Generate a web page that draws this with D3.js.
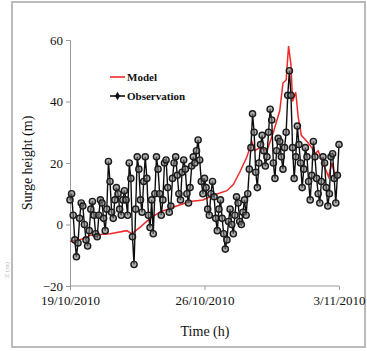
<!DOCTYPE html>
<html>
<head>
<meta charset="utf-8">
<script src="https://cdn.jsdelivr.net/npm/d3@7"></script>
<style>
  body { margin: 0; background: #fff; }
  svg text { font-family: "Liberation Serif", "DejaVu Serif", serif; }
</style>
</head>
<body>
<div id="chart"></div>
<script>
// observations every 2 hours from 19/10/2010 00:00
const obsStep = 2;
const obsValues = [
  8, 10, 3, -5, -10.5, -6, 2, 7, 6, 0, -5, -7,
  -2, 5, 7.5, 3, -3, -4, 3, 8, 7, 2, -2, 5,
  20.5, 14, 4, 2, 8, 12, 10, 5, 3, 8, 11, 8,
  3, 20, 15, -4, -13, 5, 22, 18, 8, 4, 14, 22,
  15, 3, -1, 8, -3, 10, 22, 18, 10, 3, 8, 20,
  21, 12, 4, 6, 15, 20, 22, 16, 10, 8, 17, 21,
  18, 10, 7, 12, 19, 22, 20, 24, 27.5, 21, 14, 10,
  15, 12, 5, 3, 10, 14, 9, 2, -2, 5, 8, 2,
  -3, -8, -5, 1, 5, 0, -3, 3, 9, 7, 1, 0,
  4, 8, 3, 10, 18, 25, 36, 30, 17, 12, 20, 26,
  29, 24, 19, 22, 30, 37.5, 34, 20, 15, 24, 28, 27,
  22, 18, 25, 30, 42, 50, 42, 25, 15, 22, 32, 26,
  20, 12, 18, 25, 22, 14, 8, 16, 27, 22, 15, 10,
  7, 14, 22, 20, 12, 6, 10, 22, 23, 15, 7, 16,
  26
];

const modelHours = [0, 10, 20, 25, 50, 71, 77, 87, 100, 112, 133, 150, 166, 179, 196, 204, 212, 221, 227, 231, 237, 246, 250, 254, 262, 266, 270, 273, 276, 278, 282, 285, 289, 296, 302, 306, 310, 316, 323, 327, 331, 335];
const modelValues = [-5.5, -5, -4.5, -3.5, -3, -2, -3, -1, 2, 4, 6, 7.5, 8, 9.5, 11, 13, 17, 22, 27, 24, 25, 24, 27, 30, 37, 46, 47, 58, 52, 40, 43, 35, 29, 27, 25, 23, 24, 20, 15.5, 20, 16, 17];

const xTickHours = [0, 168, 336];
const xTickLabels = ['19/10/2010', '26/10/2010', '3/11/2010'];
const yTicks = [-20, 0, 20, 40, 60];

const W = 367, H = 351;
const svg = d3.select('#chart').append('svg')
  .attr('width', W)
  .attr('height', H);

// soft edges, the reference is a blurry scan
svg.append('defs').append('filter').attr('id', 'soft')
  .append('feGaussianBlur').attr('stdDeviation', 0.35);

// frame
svg.append('rect')
  .attr('x', 12).attr('y', 2)
  .attr('width', 353).attr('height', 345)
  .attr('fill', 'none')
  .attr('stroke', '#bbb')
  .attr('stroke-width', 2);

const x = d3.scaleLinear().domain([0, 336]).range([70, 339]);
const y = d3.scaleLinear().domain([-20, 60]).range([286, 40]);

// axes
const yAxis = svg.append('g')
  .attr('transform', 'translate(70,0)')
  .call(d3.axisLeft(y).tickValues(yTicks).tickSize(4).tickPadding(3));
yAxis.selectAll('path, line').attr('stroke', '#999');
yAxis.selectAll('text').attr('font-size', 13).attr('fill', '#111')
  .style('font-family', '"Liberation Serif", serif');

const xAxis = svg.append('g')
  .attr('transform', 'translate(0,286)')
  .call(d3.axisBottom(x).tickValues(xTickHours).tickSize(4).tickPadding(6)
    .tickFormat((d, i) => xTickLabels[i]));
xAxis.selectAll('path, line').attr('stroke', '#999');
xAxis.selectAll('text').attr('font-size', 13).attr('fill', '#111')
  .style('font-family', '"Liberation Serif", serif');
xAxis.select('.domain').attr('d', 'M70,0H339');

const plot = svg.append('g').attr('filter', 'url(#soft)');

// model
const line = d3.line().x(d => x(d[0])).y(d => y(d[1]));
plot.append('path')
  .datum(modelHours.map((h, i) => [h, modelValues[i]]))
  .attr('d', line)
  .attr('fill', 'none')
  .attr('stroke', '#ee2a2a')
  .attr('stroke-width', 1.5);

// observations
const obs = obsValues.map((v, i) => [i * obsStep, v]);
plot.append('path')
  .datum(obs)
  .attr('d', line)
  .attr('fill', 'none')
  .attr('stroke', '#111')
  .attr('stroke-width', 1.4);
plot.append('g')
  .selectAll('circle')
  .data(obs)
  .join('circle')
  .attr('cx', d => x(d[0]))
  .attr('cy', d => y(d[1]))
  .attr('r', 3.1)
  .attr('fill', 'rgba(120,120,120,0.6)')
  .attr('stroke', '#1a1a1a')
  .attr('stroke-width', 1.4);

// legend
const lg = svg.append('g');
lg.append('line').attr('x1', 110).attr('x2', 125).attr('y1', 77).attr('y2', 77)
  .attr('stroke', '#ee2a2a').attr('stroke-width', 1.6);
lg.append('text').attr('x', 127).attr('y', 81).text('Model')
  .attr('font-size', 11).attr('font-weight', 'bold').attr('fill', '#111');
lg.append('line').attr('x1', 110).attr('x2', 125).attr('y1', 96).attr('y2', 96)
  .attr('stroke', '#111').attr('stroke-width', 1.6);
lg.append('path').attr('d', d3.symbol(d3.symbolDiamond, 22)())
  .attr('transform', 'translate(117.5,96)').attr('fill', '#111');
lg.append('text').attr('x', 127).attr('y', 100).text('Observation')
  .attr('font-size', 11).attr('font-weight', 'bold').attr('fill', '#111');

// axis titles
svg.append('text')
  .attr('transform', 'translate(32,163) rotate(-90)')
  .attr('text-anchor', 'middle')
  .attr('font-size', 14)
  .attr('fill', '#111')
  .text('Surge height (m)');
svg.append('text')
  .attr('x', 205).attr('y', 336)
  .attr('text-anchor', 'middle')
  .attr('font-size', 14)
  .attr('fill', '#111')
  .text('Time (h)');

// faint leftover label at the left edge
svg.append('text')
  .attr('transform', 'translate(9,270) rotate(-90)')
  .attr('text-anchor', 'middle')
  .attr('font-size', 7)
  .attr('fill', '#bbb')
  .text('Z (m)');
</script>
</body>
</html>
